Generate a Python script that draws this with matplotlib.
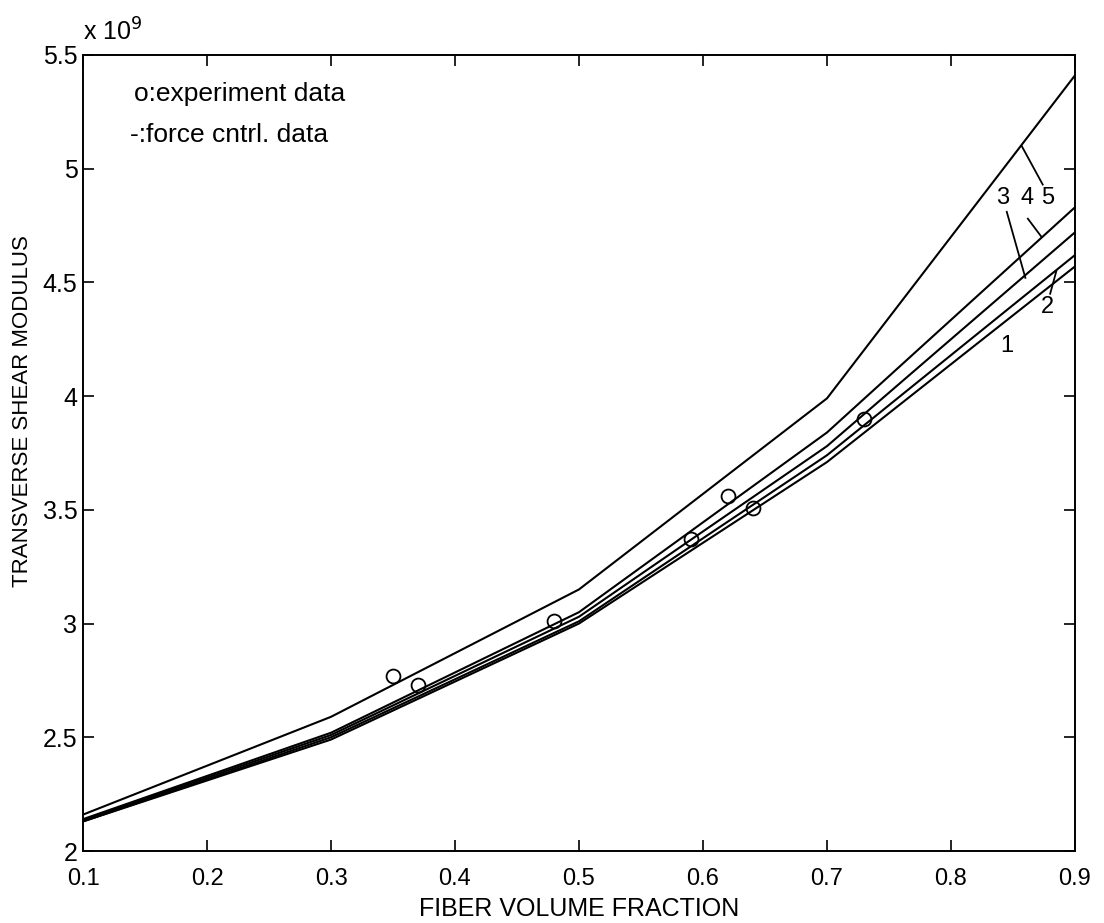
#!/usr/bin/env python3

import matplotlib

matplotlib.use("Agg")
import matplotlib.pyplot as plt

plt.rcParams["font.family"] = ["Liberation Sans", "DejaVu Sans"]

# Force-controlled model curves (values in units of 1e9)
fiberFraction = [0.1, 0.3, 0.5, 0.7, 0.9]
curve1 = [2.13, 2.49, 3.00, 3.71, 4.57]
curve2 = [2.13, 2.50, 3.01, 3.74, 4.62]
curve3 = [2.135, 2.51, 3.03, 3.78, 4.72]
curve4 = [2.14, 2.52, 3.05, 3.84, 4.83]
curve5 = [2.16, 2.59, 3.15, 3.99, 5.41]

# Experiment points
expFraction = [0.35, 0.37, 0.48, 0.59, 0.62, 0.64, 0.73]
expModulus = [2.77, 2.73, 3.01, 3.37, 3.56, 3.51, 3.90]

curveLabels = ["1", "2", "3", "4", "5"]
xTicks = [0.1, 0.2, 0.3, 0.4, 0.5, 0.6, 0.7, 0.8, 0.9]
yTicks = [2, 2.5, 3, 3.5, 4, 4.5, 5, 5.5]


def main() -> None:
    fig = plt.figure(figsize=(11.04, 9.23), dpi=100)
    ax = fig.add_axes([0.0752, 0.078, 0.8985, 0.8625])

    for curve in (curve1, curve2, curve3, curve4, curve5):
        ax.plot(fiberFraction, curve, color="black", linewidth=1.5)

    ax.plot(expFraction, expModulus, linestyle="none", marker="o", markersize=10,
            markerfacecolor="none", markeredgecolor="black", markeredgewidth=1.3)

    # Curve labels with leader lines
    ax.text(0.845, 4.22, curveLabels[0], fontsize=17, ha="center", va="center")
    ax.text(0.878, 4.39, curveLabels[1], fontsize=17, ha="center", va="center")
    ax.plot([0.880, 0.885], [4.45, 4.55], color="black", linewidth=1.3)
    ax.text(0.842, 4.87, curveLabels[2], fontsize=17, ha="center", va="center")
    ax.plot([0.845, 0.860], [4.81, 4.52], color="black", linewidth=1.3)
    ax.text(0.861, 4.87, curveLabels[3], fontsize=17, ha="center", va="center")
    ax.plot([0.862, 0.873], [4.78, 4.70], color="black", linewidth=1.3)
    ax.text(0.878, 4.87, curveLabels[4], fontsize=17, ha="center", va="center")
    ax.plot([0.874, 0.857], [4.93, 5.10], color="black", linewidth=1.3)

    ax.text(0.141, 5.33, "o:experiment data", fontsize=19, ha="left", va="center")
    ax.text(0.138, 5.15, "-:force cntrl. data", fontsize=19, ha="left", va="center")

    ax.set_xlim(0.1, 0.9)
    ax.set_ylim(2, 5.5)
    ax.set_xticks(xTicks)
    ax.set_xticklabels([f"{t:g}" for t in xTicks])
    ax.set_yticks(yTicks)
    ax.set_yticklabels([f"{t:g}" for t in yTicks])
    ax.tick_params(direction="in", top=True, right=True, length=8, width=1.2)
    ax.tick_params(axis="x", pad=12, labelsize=17)
    ax.tick_params(axis="y", pad=4, labelsize=18)
    for spine in ax.spines.values():
        spine.set_linewidth(1.4)

    ax.text(0.0, 1.012, r"x 10$^{9}$", transform=ax.transAxes, fontsize=18,
            ha="left", va="bottom")

    ax.set_xlabel("FIBER VOLUME FRACTION", fontsize=18, labelpad=5)
    ax.set_ylabel("TRANSVERSE SHEAR MODULUS", fontsize=16)
    ax.yaxis.set_label_coords(-0.05, 0.553)

    fig.savefig("out.png", dpi=100)


if __name__ == "__main__":
    main()
